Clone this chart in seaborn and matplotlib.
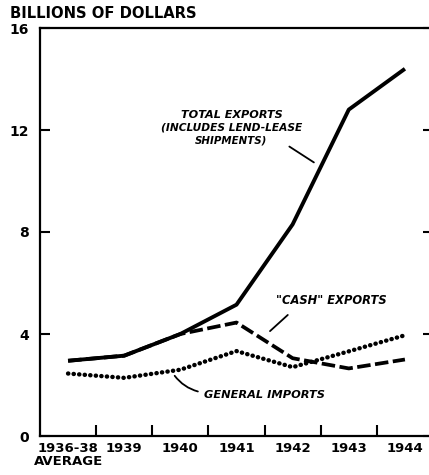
import matplotlib
matplotlib.use("Agg")
import matplotlib.pyplot as plt
import seaborn as sns
import pandas as pd

years = ["1936-38\nAVERAGE", "1939", "1940", "1941", "1942", "1943", "1944"]
total_exports = [2.95, 3.15, 4.0, 5.15, 8.3, 12.8, 14.4]
cash_exports = [2.95, 3.15, 4.0, 4.45, 3.05, 2.65, 3.0]
general_imports = [2.45, 2.28, 2.6, 3.33, 2.7, 3.32, 3.95]
y_ticks = [0, 4, 8, 12, 16]

sns.set_theme(style="white")
plt.rcParams["font.family"] = ["DejaVu Sans"]
plt.rcParams["text.color"] = "black"
plt.rcParams["xtick.color"] = "black"
plt.rcParams["ytick.color"] = "black"
plt.rcParams["axes.labelcolor"] = "black"

df = pd.DataFrame({
    "year": years * 3,
    "value": total_exports + cash_exports + general_imports,
    "series": ["total"] * 7 + ["cash"] * 7 + ["imports"] * 7,
})

fig = plt.figure(figsize=(4.29, 4.75), dpi=100)
ax = fig.add_axes([40 / 429, 1 - 436 / 475, 393 / 429, 408 / 475])

sns.lineplot(data=df[df.series == "imports"], x="year", y="value", ax=ax,
             color="black", linewidth=3.2, linestyle=(0, (0.05, 1.2)),
             dash_capstyle="round", sort=False)
sns.lineplot(data=df[df.series == "cash"], x="year", y="value", ax=ax,
             color="black", linewidth=2.7, linestyle=(0, (3.6, 1.2)), sort=False)
sns.lineplot(data=df[df.series == "total"], x="year", y="value", ax=ax,
             color="black", linewidth=2.8, solid_capstyle="butt", sort=False)

ax.set_xlim(-0.5, 6.5)
ax.set_ylim(0, 16)
ax.set_xlabel("")
ax.set_ylabel("")
ax.set_yticks(y_ticks)
ax.set_yticklabels([str(v) for v in y_ticks], fontsize=10, fontweight="bold",
                   color="black")
ax.set_xticks(range(len(years)))
ax.set_xticklabels(years, fontsize=9.5, fontweight="bold", linespacing=1.0,
                   color="black")
ax.set_xticks([i + 0.5 for i in range(len(years) - 1)], minor=True)
ax.tick_params(axis="x", which="major", length=0, pad=4)
ax.tick_params(axis="x", which="minor", direction="in", length=8, width=1.5,
               bottom=True, color="black")
ax.tick_params(axis="y", which="major", direction="in", length=7, width=1.5,
               left=True, right=True, color="black", pad=8)

for side in ["left", "bottom", "top"]:
    ax.spines[side].set_color("black")
    ax.spines[side].set_linewidth(1.6)
ax.spines["right"].set_visible(False)

fig.text(10 / 429, 1 - 14 / 475, "BILLIONS OF DOLLARS", fontsize=10.6,
         fontweight="bold", va="center", ha="left", color="black")

ann = dict(fontsize=8.1, fontweight="bold", fontstyle="italic", ha="center",
           va="center", color="black")
ax.text(2.91, 12.59, "TOTAL EXPORTS", **ann)
ax.text(2.91, 12.08, "(INCLUDES LEND-LEASE", **dict(ann, fontsize=7.7))
ax.text(2.91, 11.6, "SHIPMENTS)", **dict(ann, fontsize=7.4))
ax.annotate("", xy=(4.42, 10.67), xytext=(3.9, 11.41),
            arrowprops=dict(arrowstyle="-", color="black", lw=1.3))

ax.text(4.68, 5.33, "\"CASH\" EXPORTS", **dict(ann, fontsize=8.3))
ax.annotate("", xy=(3.56, 4.04), xytext=(3.95, 4.82),
            arrowprops=dict(arrowstyle="-", color="black", lw=1.3))

ax.text(3.49, 1.61, "GENERAL IMPORTS", **dict(ann, fontsize=8.2))
ax.annotate("", xy=(1.87, 2.45), xytext=(2.36, 1.72),
            arrowprops=dict(arrowstyle="-", color="black", lw=1.3,
                            connectionstyle="arc3,rad=-0.2"))

fig.savefig("out.png", dpi=100, facecolor="white")
